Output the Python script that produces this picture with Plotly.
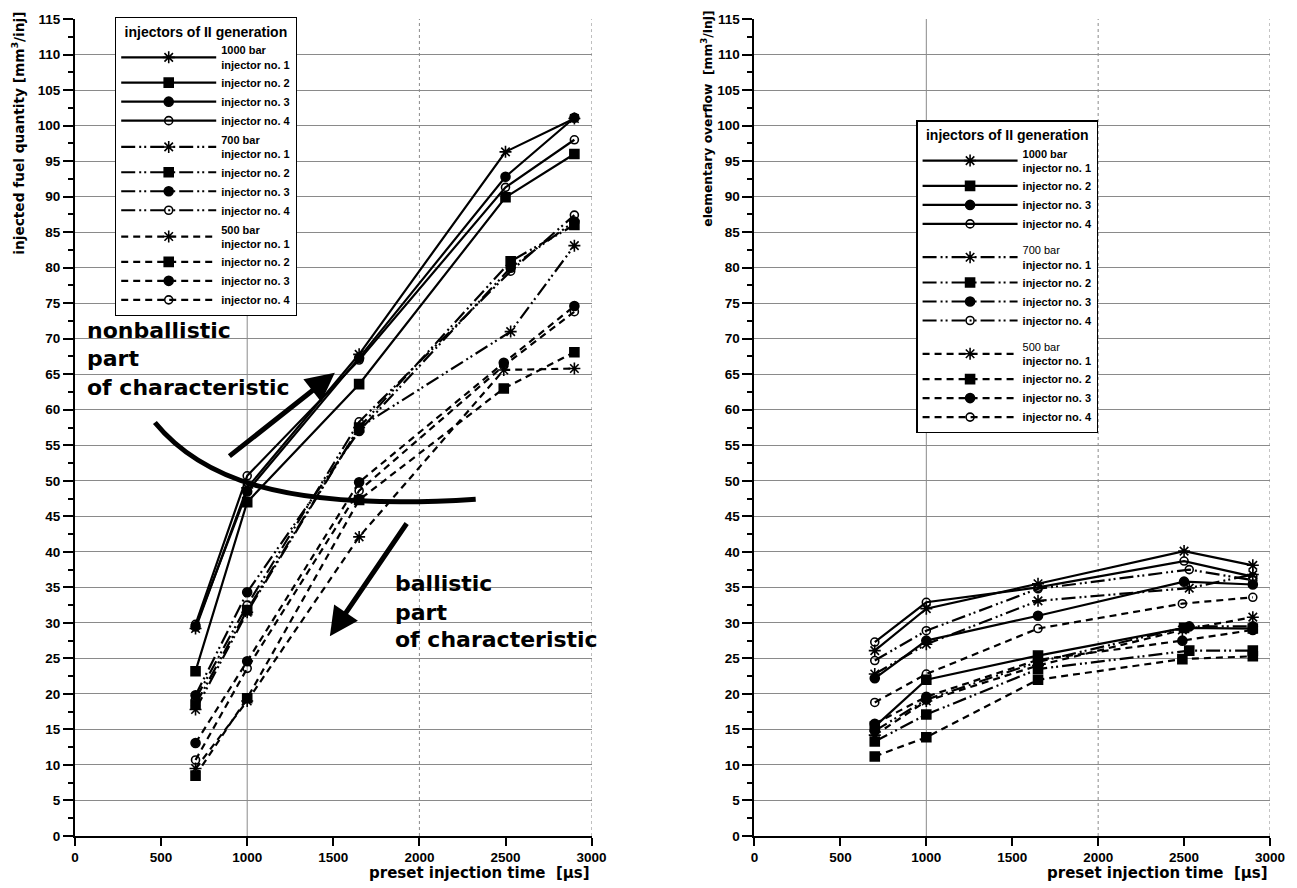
import plotly.graph_objects as go

# ---------------- data ----------------
time_1000 = [700, 1000, 1650, 2500, 2900]
time_700 = [700, 1000, 1650, 2530, 2900]
time_500 = [700, 1000, 1650, 2490, 2900]

injectors = ["injector no. 1", "injector no. 2", "injector no. 3", "injector no. 4"]
pressures = ["1000 bar", "700 bar", "500 bar"]

# injected fuel quantity [mm3/inj] (left chart), order: injector 1..4
fuel_1000 = [
    [29.2, 49.0, 67.8, 96.3, 101.0],
    [23.2, 47.0, 63.6, 89.9, 96.0],
    [29.5, 48.5, 67.3, 92.8, 101.1],
    [29.8, 50.7, 67.0, 91.3, 98.0],
]
fuel_700 = [
    [17.8, 31.5, 57.5, 71.0, 83.1],
    [18.5, 31.8, 57.5, 80.9, 86.0],
    [19.8, 34.3, 57.0, 80.0, 86.5],
    [19.3, 32.5, 58.3, 79.5, 87.4],
]
fuel_500 = [
    [9.5, 19.0, 42.1, 65.6, 65.8],
    [8.5, 19.4, 47.3, 63.0, 68.1],
    [13.1, 24.6, 49.8, 66.6, 74.6],
    [10.7, 23.6, 48.6, 66.2, 73.8],
]

# elementary overflow [mm3/inj] (right chart)
over_1000 = [
    [26.1, 32.0, 35.5, 40.1, 38.1],
    [15.4, 22.0, 25.4, 29.3, 29.2],
    [22.2, 27.5, 31.0, 35.8, 35.4],
    [27.3, 32.9, 35.0, 38.7, 36.5],
]
over_700 = [
    [22.8, 27.0, 33.1, 34.9, 36.8],
    [13.3, 17.1, 23.5, 26.1, 26.1],
    [14.8, 19.2, 24.5, 29.5, 29.5],
    [24.7, 28.9, 34.8, 37.5, 36.0],
]
over_500 = [
    [14.2, 19.0, 24.0, 29.0, 30.8],
    [11.2, 13.9, 22.0, 24.9, 25.3],
    [15.8, 19.6, 24.8, 27.5, 29.0],
    [18.8, 22.8, 29.2, 32.7, 33.6],
]

x_ticks = [0, 500, 1000, 1500, 2000, 2500, 3000]
x_grid = [1000, 2000, 3000]

# ---------------- styles ----------------
symbols = ["asterisk-open", "square", "circle", "circle-open"]
msizes = [10, 9, 9, 8]
dashes = {"1000 bar": "solid", "700 bar": "14px,4px,2px,3px,2px,4px", "500 bar": "7px,5px"}

FONT = "Liberation Sans, Arial, Helvetica, sans-serif"
WIDE = "DejaVu Sans, Verdana, sans-serif"

fig = go.Figure()

groups_left = [("1000 bar", time_1000, fuel_1000), ("700 bar", time_700, fuel_700), ("500 bar", time_500, fuel_500)]
groups_right = [("1000 bar", time_1000, over_1000), ("700 bar", time_700, over_700), ("500 bar", time_500, over_500)]


def add_group(groups, xa, ya, legend, bold_header):
    for p, xs, series in groups:
        for i, ys in enumerate(series):
            if i == 0:
                head = f"<b>{p}</b>" if (bold_header or p == "1000 bar") else p
                name = f"{head}<br><b>{injectors[i]}</b>"
            else:
                name = f"<b>{injectors[i]}</b>"
            fig.add_trace(go.Scatter(
                x=xs, y=ys, mode="lines+markers", name=name,
                xaxis=xa, yaxis=ya, legend=legend, legendgroup=legend + p,
                line=dict(color="black", width=2.2, dash=dashes[p]),
                marker=dict(symbol=symbols[i], size=msizes[i], color="black",
                            line=dict(color="black", width=1.6)),
                cliponaxis=False,
            ))


add_group(groups_left, "x", "y", "legend", True)
add_group(groups_right, "x2", "y2", "legend2", False)

axis_common = dict(
    range=[0, 3000], tickvals=x_ticks, ticks="outside", ticklen=8, tickwidth=1.5,
    tickcolor="black", showline=True, linewidth=2, linecolor="black", showgrid=False,
    zeroline=False, tickfont=dict(family=FONT, size=13.5, color="black", weight="bold"),
)
yaxis_common = dict(
    range=[0, 115], dtick=5, tick0=0, ticks="outside", ticklen=10, tickwidth=1.5,
    tickcolor="black", showline=True, linewidth=2, linecolor="black", showgrid=True,
    gridcolor="#8a8a8a", gridwidth=1, zeroline=False,
    minor=dict(dtick=2.5, ticks="outside", ticklen=5, tickcolor="black", showgrid=False),
    tickfont=dict(family=FONT, size=13.5, color="black", weight="bold"),
)

dom_left = [0, 0.4323]
dom_right = [0.5686, 1]

legend_common = dict(
    bgcolor="white", bordercolor="black", borderwidth=1.3,
    font=dict(family=FONT, size=11, color="black"),
    title=dict(text="<b>injectors of II generation</b>", side="top center",
               font=dict(family=FONT, size=14, color="black")),
    xanchor="left", yanchor="top", itemwidth=95,
)

fig.update_layout(
    width=1297, height=888,
    margin=dict(l=75, r=26, t=14, b=52),
    paper_bgcolor="white", plot_bgcolor="white",
    xaxis=dict(domain=dom_left, anchor="y", **axis_common),
    yaxis=dict(anchor="x", **yaxis_common),
    xaxis2=dict(domain=dom_right, anchor="y2", **axis_common),
    yaxis2=dict(anchor="x2", **yaxis_common),
    legend=dict(x=0.0334, y=1.0024, tracegroupgap=1, **legend_common),
    legend2=dict(x=0.704, y=0.876, tracegroupgap=8, **legend_common),
    font=dict(family=FONT, color="black"),
)

# vertical grid lines every 1000
shapes = []
for xa, ya in (("x", "y"), ("x2", "y2")):
    for g in x_grid:
        shapes.append(dict(type="line", xref=xa, yref=ya + " domain", x0=g, x1=g, y0=0, y1=1,
                           line=dict(color="#8a8a8a", width=1, dash="solid" if g == 1000 else "dot"),
                           layer="below"))

# thick curve separating the two parts of the characteristic (left chart)
shapes.append(dict(type="path", xref="x", yref="y",
                   path="M 464,58.2 C 725,50.5 1190,45.6 2327,47.4",
                   line=dict(color="black", width=5)))
fig.update_layout(shapes=shapes)

annotations = [
    # axis titles
    dict(text="<b>injected fuel quantity [mm<sup>3</sup>/inj]</b>", textangle=-90,
         xref="paper", yref="paper", x=-0.0477, y=1.012, xanchor="center", yanchor="top",
         showarrow=False, font=dict(family=WIDE, size=13.7)),
    dict(text="<b>elementary overflow  [mm<sup>3</sup>/inj]</b>", textangle=-90,
         xref="paper", yref="paper", x=0.5293, y=1.012, xanchor="center", yanchor="top",
         showarrow=False, font=dict(family=WIDE, size=12.3)),
    dict(text="<b>preset injection time  [µs]</b>", xref="paper", yref="paper",
         x=dom_left[1], y=-0.045, xanchor="right", yanchor="middle", showarrow=False,
         font=dict(family=WIDE, size=15)),
    dict(text="<b>preset injection time  [µs]</b>", xref="paper", yref="paper",
         x=dom_right[1], y=-0.045, xanchor="right", yanchor="middle", showarrow=False,
         font=dict(family=WIDE, size=15)),
]

# region labels, one line per annotation for tight line spacing
for txt, yv in (("nonballistic", 71.2), ("part", 67.2), ("of characteristic", 63.2)):
    annotations.append(dict(text=f"<b>{txt}</b>", xref="x", yref="y", x=58, y=yv,
                            xanchor="left", yanchor="middle", showarrow=False,
                            font=dict(family=WIDE, size=22)))
for txt, yv in (("ballistic", 35.5), ("part", 31.5), ("of characteristic", 27.6)):
    annotations.append(dict(text=f"<b>{txt}</b>", xref="x", yref="y", x=1845, y=yv,
                            xanchor="left", yanchor="middle", showarrow=False,
                            font=dict(family=WIDE, size=22)))

# arrows
annotations += [
    dict(x=1509, y=65.2, ax=888, ay=53.3, xref="x", yref="y", axref="x", ayref="y",
         showarrow=True, arrowhead=2, arrowsize=1.15, arrowwidth=5, arrowcolor="black", text=""),
    dict(x=1480, y=28.1, ax=1932, ay=44.2, xref="x", yref="y", axref="x", ayref="y",
         showarrow=True, arrowhead=2, arrowsize=1.15, arrowwidth=5, arrowcolor="black", text=""),
]
fig.update_layout(annotations=annotations)

fig.write_html("out.html")
